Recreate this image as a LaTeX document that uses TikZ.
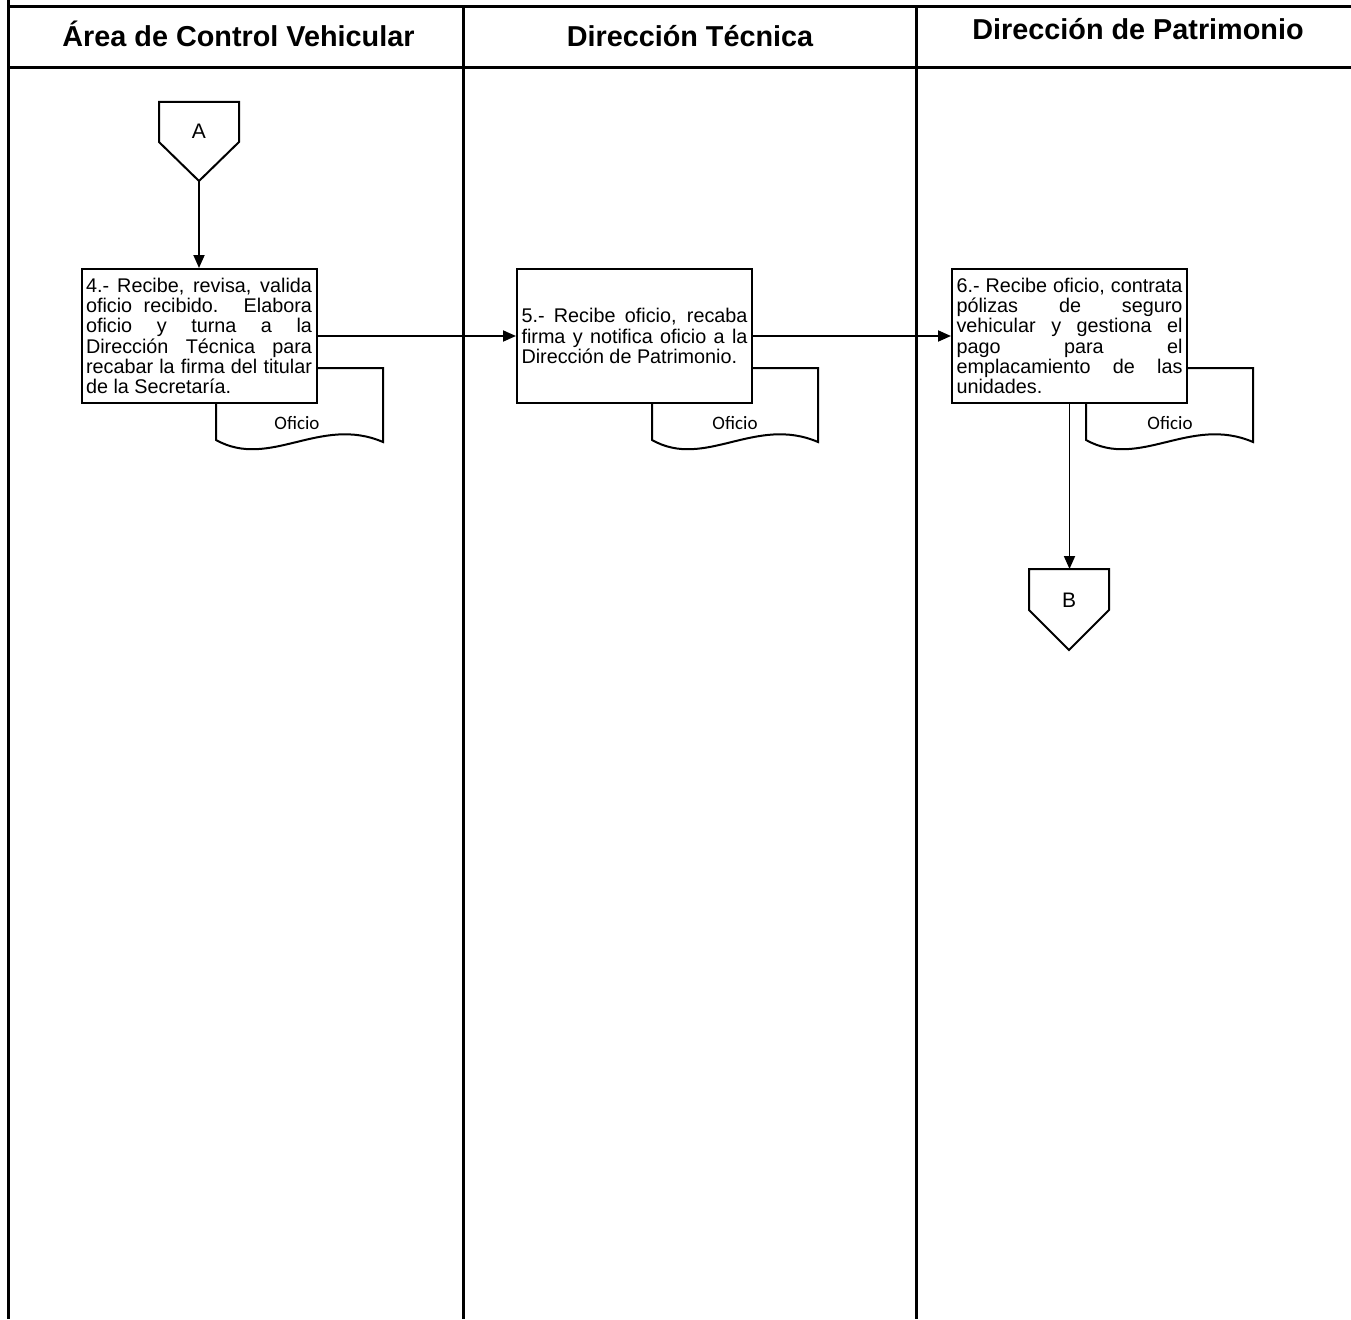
\documentclass[tikz,border=0pt]{standalone}
\usepackage{fontspec}
\setmainfont{Liberation Sans}
\newfontfamily\calibrifont{Carlito}
\usetikzlibrary{arrows.meta}
\newcommand{\jl}[1]{\hbox to 226pt{#1}}
\newcommand{\lastln}[1]{\hbox to 226pt{#1\hfil}}
\tikzset{
  grid/.style={line width=3pt, line cap=rect},
  stepbox/.style={draw, line width=2pt, fill=white, minimum width=235pt, minimum height=134pt, inner sep=0pt, font=\fontsize{19.8pt}{20.2pt}\selectfont},
  docshape/.style={draw, line width=2pt, fill=white},
  offpage/.style={draw, line width=2pt, fill=white},
  flow/.style={line width=1.8pt, -{Triangle[length=13pt,width=11pt]}},
  head/.style={font=\fontsize{28.8pt}{32pt}\selectfont\bfseries, anchor=base},
  doclabel/.style={font=\calibrifont\fontsize{19pt}{21pt}\selectfont},
  conlabel/.style={font=\fontsize{21pt}{24pt}\selectfont}
}
\begin{document}
\begin{tikzpicture}[x=1pt,y=-1pt]
\useasboundingbox (0,0) rectangle (1351,1319);
% table
\draw[grid] (8,7) -- (1351,7);
\draw[grid] (8,68) -- (1351,68);
\draw[line width=3pt] (8,0) -- (8,1319);
\draw[line width=3pt] (463,7) -- (463,1319);
\draw[line width=3pt] (916,7) -- (916,1319);
\node[head] (h1) at (238.5,47) {Área de Control Vehicular};
\node[head] (h2) at (690,47) {Dirección Técnica};
\node[head] (h3) at (1138,40) {Dirección de Patrimonio};

% documents (behind boxes)
\draw[docshape] (216,368) -- (383,368) -- (383,442) .. controls (320,415) and (270,470) .. (216,440) -- cycle;
\node[doclabel] (d4) at (297,423) {Oficio};
\draw[docshape] (652,368) -- (818,368) -- (818,442) .. controls (755,415) and (705,470) .. (652,440) -- cycle;
\node[doclabel] (d5) at (735,423) {Oficio};
\draw[docshape] (1086,368) -- (1253,368) -- (1253,442) .. controls (1190,415) and (1140,470) .. (1086,440) -- cycle;
\node[doclabel] (d6) at (1170,423) {Oficio};

% connector A
\draw[offpage] (159,102) -- (239,102) -- (239,142) -- (199,181) -- (159,142) -- cycle;
\node[conlabel] (la) at (199,131) {A};
\coordinate (Atip) at (199,181);

% boxes
\node[stepbox] (s4) at (199,336) {\vbox{\baselineskip=20.2pt
\jl{4.- Recibe, revisa, valida}
\jl{oficio recibido. Elabora}
\jl{oficio y turna a la}
\jl{Dirección Técnica para}
\jl{recabar la firma del titular}
\lastln{de la Secretaría.}}};

\node[stepbox] (s5) at (634.5,336) {\vbox{\baselineskip=20.2pt
\jl{5.- Recibe oficio, recaba}
\jl{firma y notifica oficio a la}
\lastln{Dirección de Patrimonio.}}};

\node[stepbox] (s6) at (1069.5,336) {\vbox{\baselineskip=20.2pt
\jl{6.- Recibe oficio, contrata}
\jl{pólizas de seguro}
\jl{vehicular y gestiona el}
\jl{pago para el}
\jl{emplacamiento de las}
\lastln{unidades.}}};

% connector B
\draw[offpage] (1029,569) -- (1109,569) -- (1109,610) -- (1069,650) -- (1029,610) -- cycle;
\node[conlabel] (lb) at (1069,600) {B};
\coordinate (Btop) at (1069.5,569);

% flows
\draw[flow] (Atip) -- (s4.north);
\draw[flow] (s4.east) -- (s5.west);
\draw[flow] (s5.east) -- (s6.west);
\draw[flow] (s6.south) -- (Btop);
\end{tikzpicture}
\end{document}
